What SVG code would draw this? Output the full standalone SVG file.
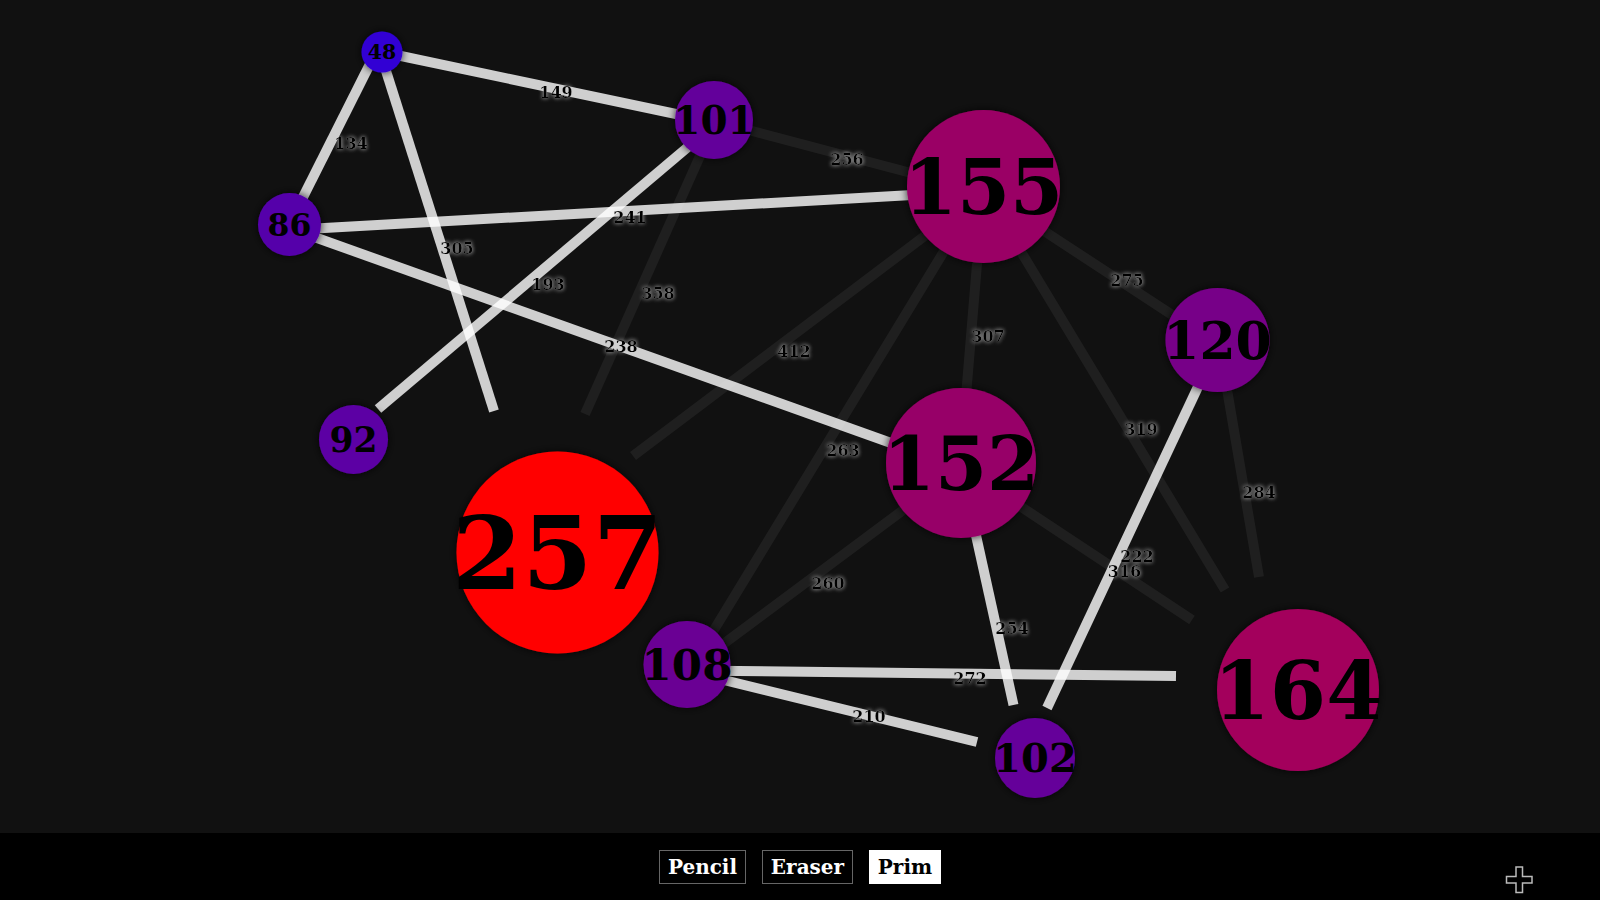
<svg xmlns="http://www.w3.org/2000/svg" width="1600" height="900" viewBox="0 0 1600 900">
<defs>
<style>
.bg{fill:#111111}
.bar{fill:#000000}
.lt{stroke:#ffffff;stroke-opacity:0.8;stroke-width:10;stroke-linecap:butt;fill:none}
.dk{stroke:#ffffff;stroke-opacity:0.06;stroke-width:10;stroke-linecap:butt;fill:none}
.el{font-family:"DejaVu Serif","Liberation Serif",serif;font-weight:bold;font-size:16px;fill:#000;text-anchor:middle;filter:url(#glow)}
.nl{font-family:"DejaVu Serif","Liberation Serif",serif;font-weight:bold;fill:#000;text-anchor:middle}
.node circle{filter:url(#shadow)}
.btn{font-family:"DejaVu Serif","Liberation Serif",serif;font-weight:bold;font-size:20px;text-anchor:middle}
</style>
<filter id="glow" x="-50%" y="-50%" width="200%" height="200%">
<feGaussianBlur in="SourceAlpha" stdDeviation="2.2" result="b"/>
<feFlood flood-color="#cccccc" flood-opacity="0.55"/>
<feComposite in2="b" operator="in" result="g"/>
<feMerge><feMergeNode in="g"/><feMergeNode in="g"/><feMergeNode in="SourceGraphic"/></feMerge>
</filter>
<filter id="shadow" x="-30%" y="-30%" width="160%" height="160%">
<feDropShadow dx="0" dy="0" stdDeviation="4" flood-color="#000" flood-opacity="0.8"/>
</filter>
</defs>
<rect class="bg" x="0" y="0" width="1600" height="833"/>
<rect class="bar" x="0" y="833" width="1600" height="67"/>

<g id="connectors">
<g id="dark-lines">
<line class="dk" x1="714" y1="121" x2="983" y2="192"/>
<line class="dk" x1="716" y1="120" x2="585" y2="414"/>
<line class="dk" x1="983" y1="192" x2="633" y2="456"/>
<line class="dk" x1="980" y1="192" x2="689" y2="671"/>
<line class="dk" x1="983" y1="192" x2="960" y2="468"/>
<line class="dk" x1="983" y1="191" x2="1218" y2="345"/>
<line class="dk" x1="985" y1="192" x2="1225" y2="590"/>
<line class="dk" x1="1218.6" y1="340" x2="1259" y2="577"/>
<line class="dk" x1="961" y1="467" x2="1192" y2="620"/>
<line class="dk" x1="961" y1="467" x2="687" y2="671"/>
</g>
<g id="light-lines">
<line class="lt" x1="382" y1="52" x2="714" y2="122"/>
<line class="lt" x1="376" y1="52" x2="289" y2="225"/>
<line class="lt" x1="380" y1="52" x2="494" y2="411"/>
<line class="lt" x1="289" y1="230" x2="983" y2="191"/>
<line class="lt" x1="714" y1="125" x2="378" y2="409"/>
<line class="lt" x1="289" y1="228" x2="961" y2="468"/>
<line class="lt" x1="960" y1="463" x2="1013.5" y2="705"/>
<line class="lt" x1="1220" y1="340" x2="1047" y2="708"/>
<line class="lt" x1="687" y1="670.5" x2="1176" y2="676"/>
<line class="lt" x1="687" y1="671" x2="977" y2="742"/>
</g>
<g id="edge-labels">
<text class="el" x="847" y="165">256</text>
<text class="el" x="658" y="299">358</text>
<text class="el" x="794" y="357">412</text>
<text class="el" x="843" y="456">263</text>
<text class="el" x="988" y="342">307</text>
<text class="el" x="1127" y="286">275</text>
<text class="el" x="1141" y="435">319</text>
<text class="el" x="1259" y="498">284</text>
<text class="el" x="1124.5" y="577">316</text>
<text class="el" x="828" y="589">260</text>
<text class="el" x="556" y="98">149</text>
<text class="el" x="351" y="149">134</text>
<text class="el" x="457" y="254">305</text>
<text class="el" x="630" y="223">241</text>
<text class="el" x="548" y="290">193</text>
<text class="el" x="621" y="352">238</text>
<text class="el" x="1012" y="634">254</text>
<text class="el" x="1137" y="562">222</text>
<text class="el" x="970" y="684">272</text>
<text class="el" x="869" y="722">210</text>
</g>
</g>

<g id="node-48" class="node"><circle cx="382" cy="52" r="20.5" fill="rgb(48,0,212)"/><text class="nl" x="382" y="59.4" font-size="20.5">48</text></g>
<g id="node-101" class="node"><circle cx="714" cy="120" r="39" fill="rgb(100,0,155)"/><text class="nl" x="714" y="134" font-size="39">101</text></g>
<g id="node-86" class="node"><circle cx="289.5" cy="224.5" r="31.5" fill="rgb(85,0,170)"/><text class="nl" x="289.5" y="235.8" font-size="31.5">86</text></g>
<g id="node-155" class="node"><circle cx="983.5" cy="186.5" r="76.5" fill="rgb(154,0,101)"/><text class="nl" x="983.5" y="214" font-size="76.5">155</text></g>
<g id="node-120" class="node"><circle cx="1217.5" cy="340" r="52" fill="rgb(119,0,136)"/><text class="nl" x="1217.5" y="358.7" font-size="52">120</text></g>
<g id="node-92" class="node"><circle cx="353.5" cy="439.5" r="34.5" fill="rgb(91,0,164)"/><text class="nl" x="353.5" y="451.9" font-size="34.5">92</text></g>
<g id="node-257" class="node"><circle cx="557.5" cy="552.5" r="101" fill="rgb(255,0,0)"/><text class="nl" x="557.5" y="588.9" font-size="101">257</text></g>
<g id="node-152" class="node"><circle cx="961" cy="463" r="75" fill="rgb(151,0,104)"/><text class="nl" x="961" y="490" font-size="75">152</text></g>
<g id="node-164" class="node"><circle cx="1298" cy="690" r="81" fill="rgb(163,0,92)"/><text class="nl" x="1298" y="719.2" font-size="81">164</text></g>
<g id="node-102" class="node"><circle cx="1035" cy="758" r="40" fill="rgb(101,0,154)"/><text class="nl" x="1035" y="772.4" font-size="40">102</text></g>
<g id="node-108" class="node"><circle cx="687" cy="664.5" r="43.5" fill="rgb(107,0,148)"/><text class="nl" x="687" y="680.2" font-size="43.5">108</text></g>

<g id="toolbar">
<rect x="659.5" y="850.5" width="86" height="33" fill="#000" stroke="#cccccc" stroke-width="1" stroke-dasharray="1,1"/>
<text class="btn" x="702.5" y="873.5" fill="#ffffff">Pencil</text>
<rect x="762.5" y="850.5" width="90" height="33" fill="#000" stroke="#cccccc" stroke-width="1" stroke-dasharray="1,1"/>
<text class="btn" x="807.5" y="873.5" fill="#ffffff">Eraser</text>
<rect x="869" y="850" width="72" height="34" fill="#ffffff"/>
<text class="btn" x="905" y="873.5" fill="#000000">Prim</text>
</g>
<path d="M1516,867 L1522.5,867 L1522.5,876.5 L1532,876.5 L1532,883 L1522.5,883 L1522.5,892.5 L1516,892.5 L1516,883 L1506.5,883 L1506.5,876.5 L1516,876.5 Z" fill="#000" stroke="#bbbbbb" stroke-width="1.5"/>
</svg>
